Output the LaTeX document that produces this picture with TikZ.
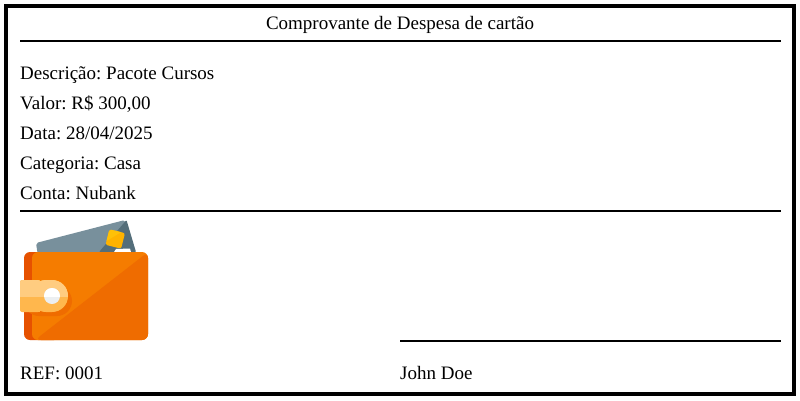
\documentclass[tikz,border=0pt]{standalone}
\usepackage{fontspec}
\setmainfont{Liberation Serif}
\usepackage{xcolor}
\usetikzlibrary{calc,positioning}
\definecolor{cardmain}{HTML}{78909C}
\definecolor{carddark}{HTML}{546E7A}
\definecolor{chipdark}{HTML}{FFB300}
\definecolor{chiplight}{HTML}{FFC107}
\definecolor{walletmain}{HTML}{F57C00}
\definecolor{walletdark}{HTML}{EF6C00}
\definecolor{walletedge}{HTML}{E65100}
\definecolor{claspup}{HTML}{FFCC80}
\definecolor{clasplow}{HTML}{FFB74D}
\definecolor{snaplow}{HTML}{ECEFF1}
\tikzset{textline/.style={anchor=base west,inner sep=0pt,font=\fontsize{19}{20}\selectfont\frenchspacing},
         ruleline/.style={line width=2pt}}
\begin{document}
\begin{tikzpicture}[x=1pt,y=-1pt]
\useasboundingbox (0,0) rectangle (800,400);
\fill[white] (0,0) rectangle (800,400);
\draw[line width=4pt] (6,6) rectangle (794,394);

\node[textline,anchor=base] (Title) at (400,29) {Comprovante de Despesa de cartão};
\coordinate (TopLeft) at (20,41);
\coordinate (TopRight) at (781,41);
\draw[ruleline] (TopLeft)--(TopRight);

\node[textline] (Descricao) at (20,79) {Descrição: Pacote Cursos};
\node[textline] (Valor) at (20,109) {Valor: R\$ 300,00};
\node[textline] (Data) at (20,139) {Data: 28/04/2025};
\node[textline] (Categoria) at (20,169) {Categoria: Casa};
\node[textline] (Conta) at (20,199) {Conta: Nubank};

\coordinate (MidLeft) at (20,211);
\coordinate (MidRight) at (781,211);
\draw[ruleline] (MidLeft)--(MidRight);

% card behind the wallet
\fill[cardmain,rounded corners=2pt] (36,243)--(125,220)--(137,256)--(38,256)--cycle;
\fill[carddark,rounded corners=1pt] (99,252)--(126.5,220)--(136,252)--cycle;
\fill[white] (114,252)--(131,252)--(130,248.5)--(116,249)--cycle;
\begin{scope}[shift={(115.3,239)},rotate=-14]
 \fill[chipdark,rounded corners=2pt] (-8,-8) rectangle (8,8);
 \fill[chiplight] (-6,-8)--(4,-8)--(-8,4)--(-8,-6)--cycle;
\end{scope}

% wallet
\fill[walletedge,rounded corners=6pt] (24,252) rectangle (60,340);
\fill[walletmain,rounded corners=6pt] (32,252) rectangle (148,340);
\fill[walletdark,rounded corners=6pt] (148,252)--(148,340)--(35,340)--cycle;
\fill[walletdark,rounded corners=15pt] (24,286) rectangle (72,316);

% clasp
\fill[clasplow,rounded corners=2pt] (20,280) rectangle (40,312);
\fill[clasplow,rounded corners=15.9pt] (30,280) rectangle (68,312);
\fill[clasplow] (24,280) rectangle (40,312);
\begin{scope}
 \clip (0,270) rectangle (80,296);
 \fill[claspup,rounded corners=15.9pt] (30,280) rectangle (68,312);
 \fill[claspup,rounded corners=2pt] (20,280) rectangle (40,312);
\end{scope}
\fill[snaplow] (52,296) circle[radius=8];
\begin{scope}
 \clip (40,284) rectangle (64,296);
 \fill[white] (52,296) circle[radius=8];
\end{scope}

\coordinate (SignLeft) at (400,341);
\coordinate (SignRight) at (781,341);
\draw[ruleline] (SignLeft)--(SignRight);

\node[textline] (Ref) at (20,379) {REF: 0001};
\node[textline] (Nome) at (400,379) {John Doe};
\end{tikzpicture}
\end{document}
